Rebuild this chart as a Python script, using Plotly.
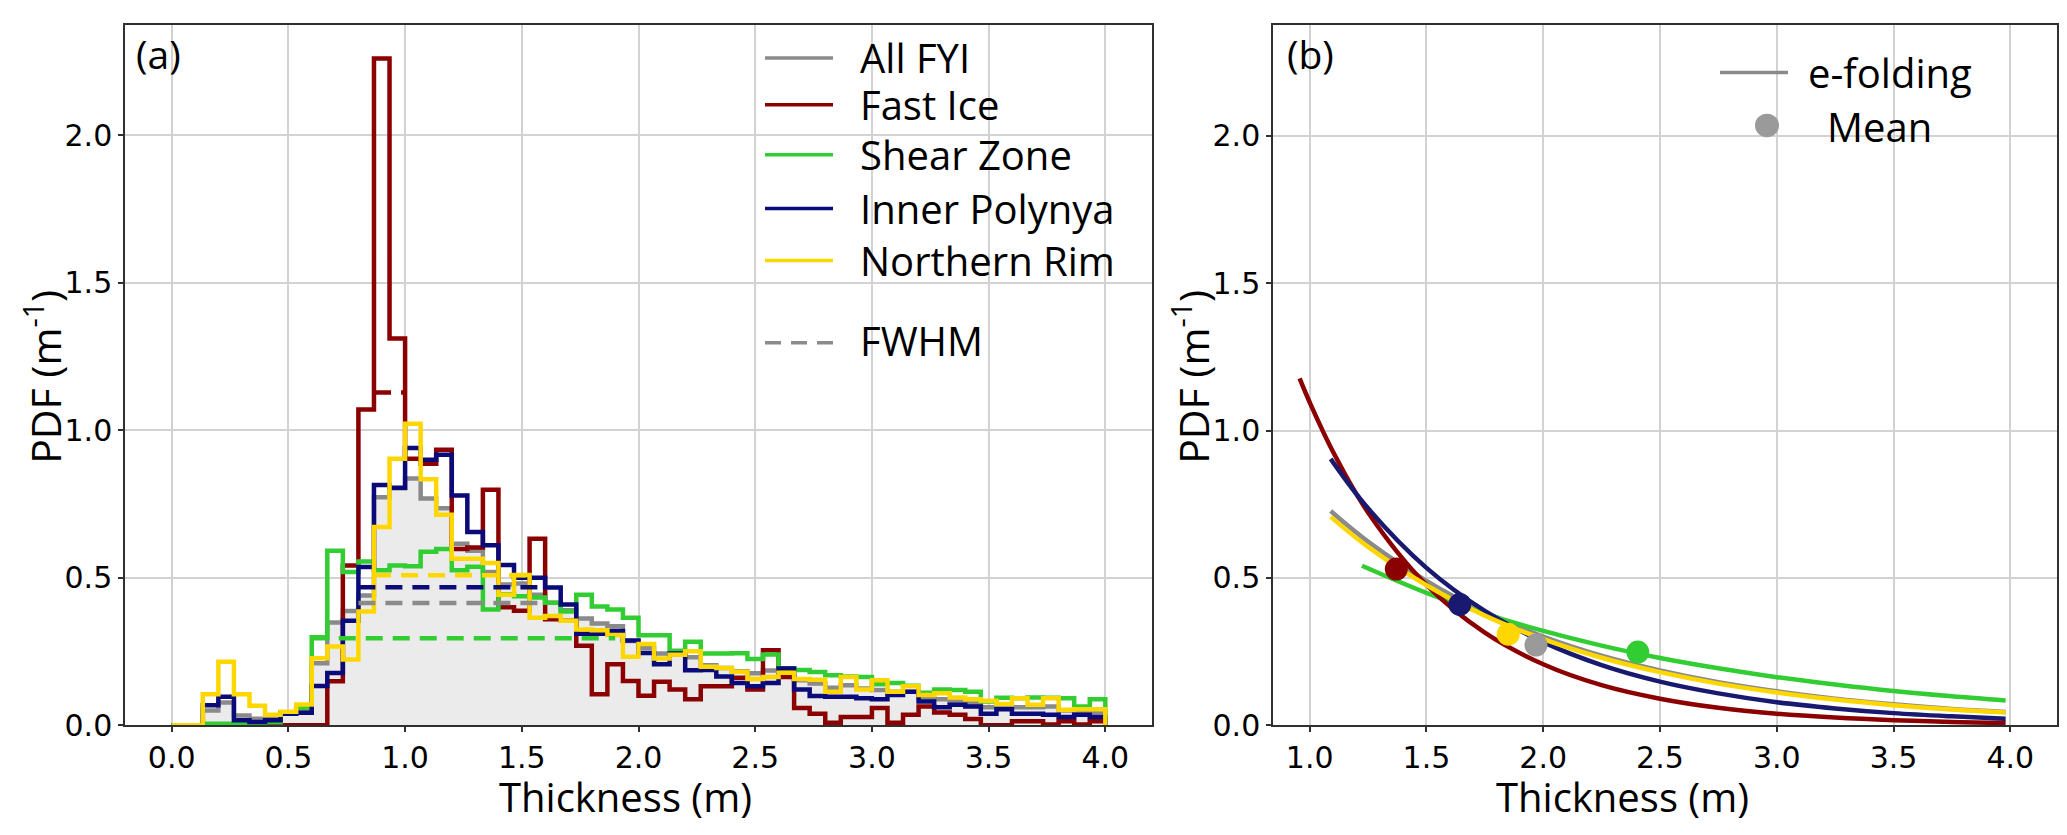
import numpy as np
import plotly.graph_objects as go

W, H = 2067, 835

# thickness bins of the PDFs: 60 bins of 1/15 m from 0 to 4 m
BIN_LO, BIN_HI, N_BINS = 0.0, 4.0, 60

ALL_FYI = [0, 0, 0.05, 0.077, 0.033, 0.022, 0.022, 0.039, 0.055, 0.21,
           0.348, 0.387, 0.44, 0.773, 0.803, 0.836, 0.768, 0.735, 0.615, 0.591,
           0.519, 0.477, 0.48, 0.442, 0.415, 0.39, 0.362, 0.345, 0.335, 0.285,
           0.262, 0.243, 0.239, 0.23, 0.203, 0.194, 0.183, 0.176, 0.185, 0.182,
           0.152, 0.141, 0.127, 0.135, 0.124, 0.119, 0.113, 0.113, 0.094, 0.088,
           0.08, 0.074, 0.061, 0.063, 0.061, 0.061, 0.063, 0.05, 0.043, 0.043]
FAST_ICE = [0, 0, 0, 0, 0, 0, 0, 0, 0, 0,
            0.149, 0.541, 1.07, 2.26, 1.311, 0.903, 0.886, 0.934, 0.597, 0.602,
            0.798, 0.4, 0.388, 0.632, 0.359, 0.354, 0.269, 0.105, 0.207, 0.15,
            0.1, 0.147, 0.121, 0.088, 0.132, 0.132, 0.161, 0.121, 0.254, 0.163,
            0.058, 0.039, 0.008, 0.028, 0.028, 0.058, 0.008, 0.035, 0.063, 0.043,
            0.035, 0.021, 0.0, 0.0, 0.013, 0.013, 0.002, 0.013, 0.002, 0.013]
SHEAR_ZONE = [0, 0, 0.005, 0.005, 0.005, 0.005, 0.01, 0.044, 0.06, 0.298,
              0.591, 0.519, 0.555, 0.525, 0.541, 0.539, 0.588, 0.597, 0.525, 0.537,
              0.392, 0.444, 0.437, 0.433, 0.415, 0.385, 0.442, 0.402, 0.392, 0.364,
              0.305, 0.305, 0.252, 0.283, 0.243, 0.243, 0.244, 0.224, 0.24, 0.193,
              0.187, 0.18, 0.169, 0.165, 0.163, 0.139, 0.143, 0.134, 0.11, 0.121,
              0.119, 0.113, 0.08, 0.093, 0.091, 0.094, 0.093, 0.091, 0.063, 0.088]
INNER_POLYNYA = [0, 0, 0.068, 0.096, 0.017, 0.011, 0.017, 0.039, 0.042, 0.133,
                 0.177, 0.354, 0.536, 0.814, 0.805, 0.94, 0.9, 0.917, 0.779, 0.655,
                 0.61, 0.543, 0.5, 0.5, 0.467, 0.409, 0.31, 0.31, 0.319, 0.287,
                 0.245, 0.207, 0.243, 0.186, 0.187, 0.165, 0.143, 0.132, 0.143, 0.192,
                 0.121, 0.099, 0.096, 0.096, 0.091, 0.088, 0.102, 0.113, 0.08, 0.061,
                 0.069, 0.063, 0.039, 0.054, 0.039, 0.039, 0.035, 0.028, 0.035, 0.028]
NORTHERN_RIM = [0, 0, 0.105, 0.215, 0.105, 0.066, 0.035, 0.046, 0.07, 0.227,
                0.267, 0.223, 0.385, 0.672, 0.903, 1.022, 0.834, 0.713, 0.564, 0.564,
                0.55, 0.442, 0.509, 0.364, 0.37, 0.354, 0.324, 0.322, 0.306, 0.232,
                0.275, 0.226, 0.239, 0.251, 0.198, 0.194, 0.181, 0.157, 0.163, 0.178,
                0.157, 0.154, 0.113, 0.163, 0.121, 0.152, 0.113, 0.132, 0.102, 0.108,
                0.094, 0.088, 0.083, 0.072, 0.091, 0.069, 0.091, 0.052, 0.054, 0.054]

# full width at half maximum: [start, end, level]
FWHM_ALL = [0.8, 1.6, 0.414]
FWHM_FAST = [0.867, 1.0, 1.128]
FWHM_SHEAR = [0.6, 1.9, 0.295]
FWHM_INNER = [0.8, 1.6, 0.468]
FWHM_NORTH = [0.867, 1.533, 0.508]

# e-folding curves, panel (b)
EF_ALL_X = [1.09, 1.25, 1.5, 1.75, 2.0, 2.25, 2.5, 2.75, 3.0, 3.25, 3.5, 3.75, 3.98]
EF_ALL_Y = [0.727, 0.623, 0.49, 0.384, 0.301, 0.236, 0.186, 0.146, 0.115, 0.09, 0.071, 0.055, 0.045]
EF_FAST_X = [0.957, 1.0, 1.1, 1.25, 1.5, 1.75, 2.0, 2.25, 2.5, 2.75, 3.0, 3.25, 3.5, 3.75, 3.98]
EF_FAST_Y = [1.177, 1.096, 0.928, 0.722, 0.476, 0.314, 0.207, 0.136, 0.09, 0.059, 0.039, 0.026, 0.017, 0.011, 0.008]
EF_SHEAR_X = [1.224, 1.5, 1.75, 2.0, 2.25, 2.5, 2.75, 3.0, 3.25, 3.5, 3.75, 3.98]
EF_SHEAR_Y = [0.541, 0.449, 0.379, 0.32, 0.27, 0.228, 0.193, 0.163, 0.138, 0.116, 0.098, 0.084]
EF_INNER_X = [1.09, 1.25, 1.5, 1.75, 2.0, 2.25, 2.5, 2.75, 3.0, 3.25, 3.5, 3.75, 3.98]
EF_INNER_Y = [0.904, 0.736, 0.534, 0.388, 0.282, 0.204, 0.148, 0.108, 0.078, 0.057, 0.041, 0.03, 0.022]
EF_NORTH_X = [1.09, 1.25, 1.5, 1.75, 2.0, 2.25, 2.5, 2.75, 3.0, 3.25, 3.5, 3.75, 3.98]
EF_NORTH_Y = [0.707, 0.605, 0.475, 0.372, 0.292, 0.229, 0.18, 0.141, 0.111, 0.087, 0.068, 0.053, 0.043]

# mean thickness points: All FYI, Fast Ice, Shear Zone, Inner Polynya, Northern Rim
MEAN_X = [1.969, 1.371, 2.405, 1.643, 1.85]
MEAN_Y = [0.272, 0.53, 0.248, 0.41, 0.309]

NAMES = ['All FYI', 'Fast Ice', 'Shear Zone', 'Inner Polynya', 'Northern Rim']
COLORS = ['#8a8a8a', '#8b0000', '#32cd32', '#0a0a78', '#ffd700']
MEAN_COLORS = ['#9a9a9a', '#8b0000', '#32cd32', '#191970', '#ffd700']

hists = [ALL_FYI, FAST_ICE, SHEAR_ZONE, INNER_POLYNYA, NORTHERN_RIM]
fwhms = [FWHM_ALL, FWHM_FAST, FWHM_SHEAR, FWHM_INNER, FWHM_NORTH]
efolds = [(EF_ALL_X, EF_ALL_Y), (EF_FAST_X, EF_FAST_Y), (EF_SHEAR_X, EF_SHEAR_Y),
          (EF_INNER_X, EF_INNER_Y), (EF_NORTH_X, EF_NORTH_Y)]

edges = np.linspace(BIN_LO, BIN_HI, N_BINS + 1)


def px(x):
    return x / W


def py(y):
    return 1 - y / H


fig = go.Figure()

# (a) step histograms
for i, vals in enumerate(hists):
    xs = np.concatenate([[edges[0]], edges])
    ys = np.concatenate([[0], vals, [0]])
    extra = {}
    if i == 0:
        extra = dict(fill='tozeroy', fillcolor='#ebebeb')
    fig.add_trace(go.Scatter(x=xs, y=ys, mode='lines', line_shape='hv',
                             line=dict(color=COLORS[i], width=4.5),
                             xaxis='x', yaxis='y', **extra))

for i, (x0, x1, lvl) in enumerate(fwhms):
    fig.add_trace(go.Scatter(x=[x0, x1], y=[lvl, lvl], mode='lines',
                             line=dict(color=COLORS[i], width=4.5, dash='17px,10px'),
                             xaxis='x', yaxis='y'))

# (b) e-folding fits and means
for i in [0, 2, 1, 3, 4]:
    xs, ys = efolds[i]
    fig.add_trace(go.Scatter(x=xs, y=ys, mode='lines', line_shape='spline',
                             line=dict(color=MEAN_COLORS[i] if i == 3 else COLORS[i], width=4.5),
                             xaxis='x2', yaxis='y2'))
for i in range(5):
    fig.add_trace(go.Scatter(x=[MEAN_X[i]], y=[MEAN_Y[i]], mode='markers',
                             marker=dict(color=MEAN_COLORS[i], size=23),
                             xaxis='x2', yaxis='y2'))

axis_common = dict(
    dtick=0.5, tick0=0, tickformat='.1f',
    showgrid=True, gridcolor='#d2d2d2', gridwidth=1.5,
    showline=True, mirror=True, linecolor='#303030', linewidth=1.5,
    ticks='outside', ticklen=5, tickwidth=1.5, tickcolor='#303030',
    tickfont=dict(family='DejaVu Sans', size=30, color='black'),
    zeroline=False,
)

ydom = [py(733), py(17.5)]
fig.update_layout(
    width=W, height=H,
    margin=dict(l=0, r=0, t=0, b=0),
    paper_bgcolor='white', plot_bgcolor='white',
    showlegend=False,
    xaxis=dict(domain=[px(117), px(1144)], range=[-0.2, 4.2], anchor='y', **axis_common),
    yaxis=dict(domain=ydom, range=[0, 2.373], anchor='x', **axis_common),
    xaxis2=dict(domain=[px(1265), px(2049)], range=[0.843, 4.2], anchor='y2', **axis_common),
    yaxis2=dict(domain=ydom, range=[0, 2.376], anchor='x2', **axis_common),
)

txt_font = dict(family='Open Sans', size=40, color='black')
ann = []
shapes = []

# axis titles
for xc in [617, 1614]:
    ann.append(dict(text='Thickness (m)', x=px(xc), y=py(806), xref='paper', yref='paper',
                    xanchor='center', yanchor='middle', showarrow=False, font=txt_font))
for xc in [35, 1183]:
    ann.append(dict(text='PDF (m<sup>-1</sup>)', x=px(xc), y=py(377), xref='paper', yref='paper',
                    xanchor='center', yanchor='middle', showarrow=False, textangle=-90,
                    font=dict(family='Open Sans', size=41, color='black')))

# panel labels
for label, xl in [('(a)', 126), ('(b)', 1277)]:
    ann.append(dict(text=label, x=px(xl), y=py(47), xref='paper', yref='paper',
                    xanchor='left', yanchor='middle', showarrow=False,
                    font=dict(family='Open Sans', size=39, color='black')))

# legend of panel (a)
rows = [51, 99, 150, 205, 258]
for i, yr in enumerate(rows):
    shapes.append(dict(type='line', xref='paper', yref='paper',
                       x0=px(757), x1=px(825), y0=py(yr), y1=py(yr),
                       line=dict(color=COLORS[i], width=3.5)))
    ann.append(dict(text=NAMES[i], x=px(850), y=py(yr), xref='paper', yref='paper',
                    xanchor='left', yanchor='middle', showarrow=False, font=txt_font))
shapes.append(dict(type='line', xref='paper', yref='paper',
                   x0=px(757), x1=px(825), y0=py(342), y1=py(342),
                   line=dict(color=COLORS[0], width=3.5, dash='16px,10px')))
ann.append(dict(text='FWHM', x=px(850), y=py(340), xref='paper', yref='paper',
                xanchor='left', yanchor='middle', showarrow=False, font=txt_font))

# legend of panel (b)
shapes.append(dict(type='line', xref='paper', yref='paper',
                   x0=px(1712), x1=px(1780), y0=py(66), y1=py(66),
                   line=dict(color=COLORS[0], width=3.5)))
ann.append(dict(text='e-folding', x=px(1798), y=py(66), xref='paper', yref='paper',
                xanchor='left', yanchor='middle', showarrow=False, font=txt_font))
shapes.append(dict(type='circle', xref='paper', yref='paper',
                   x0=px(1747), x1=px(1771), y0=py(132), y1=py(108),
                   fillcolor='#9a9a9a', line=dict(width=0)))
ann.append(dict(text='Mean', x=px(1817), y=py(121), xref='paper', yref='paper',
                xanchor='left', yanchor='middle', showarrow=False, font=txt_font))

fig.update_layout(annotations=ann, shapes=shapes)

fig.write_html("out.html")
